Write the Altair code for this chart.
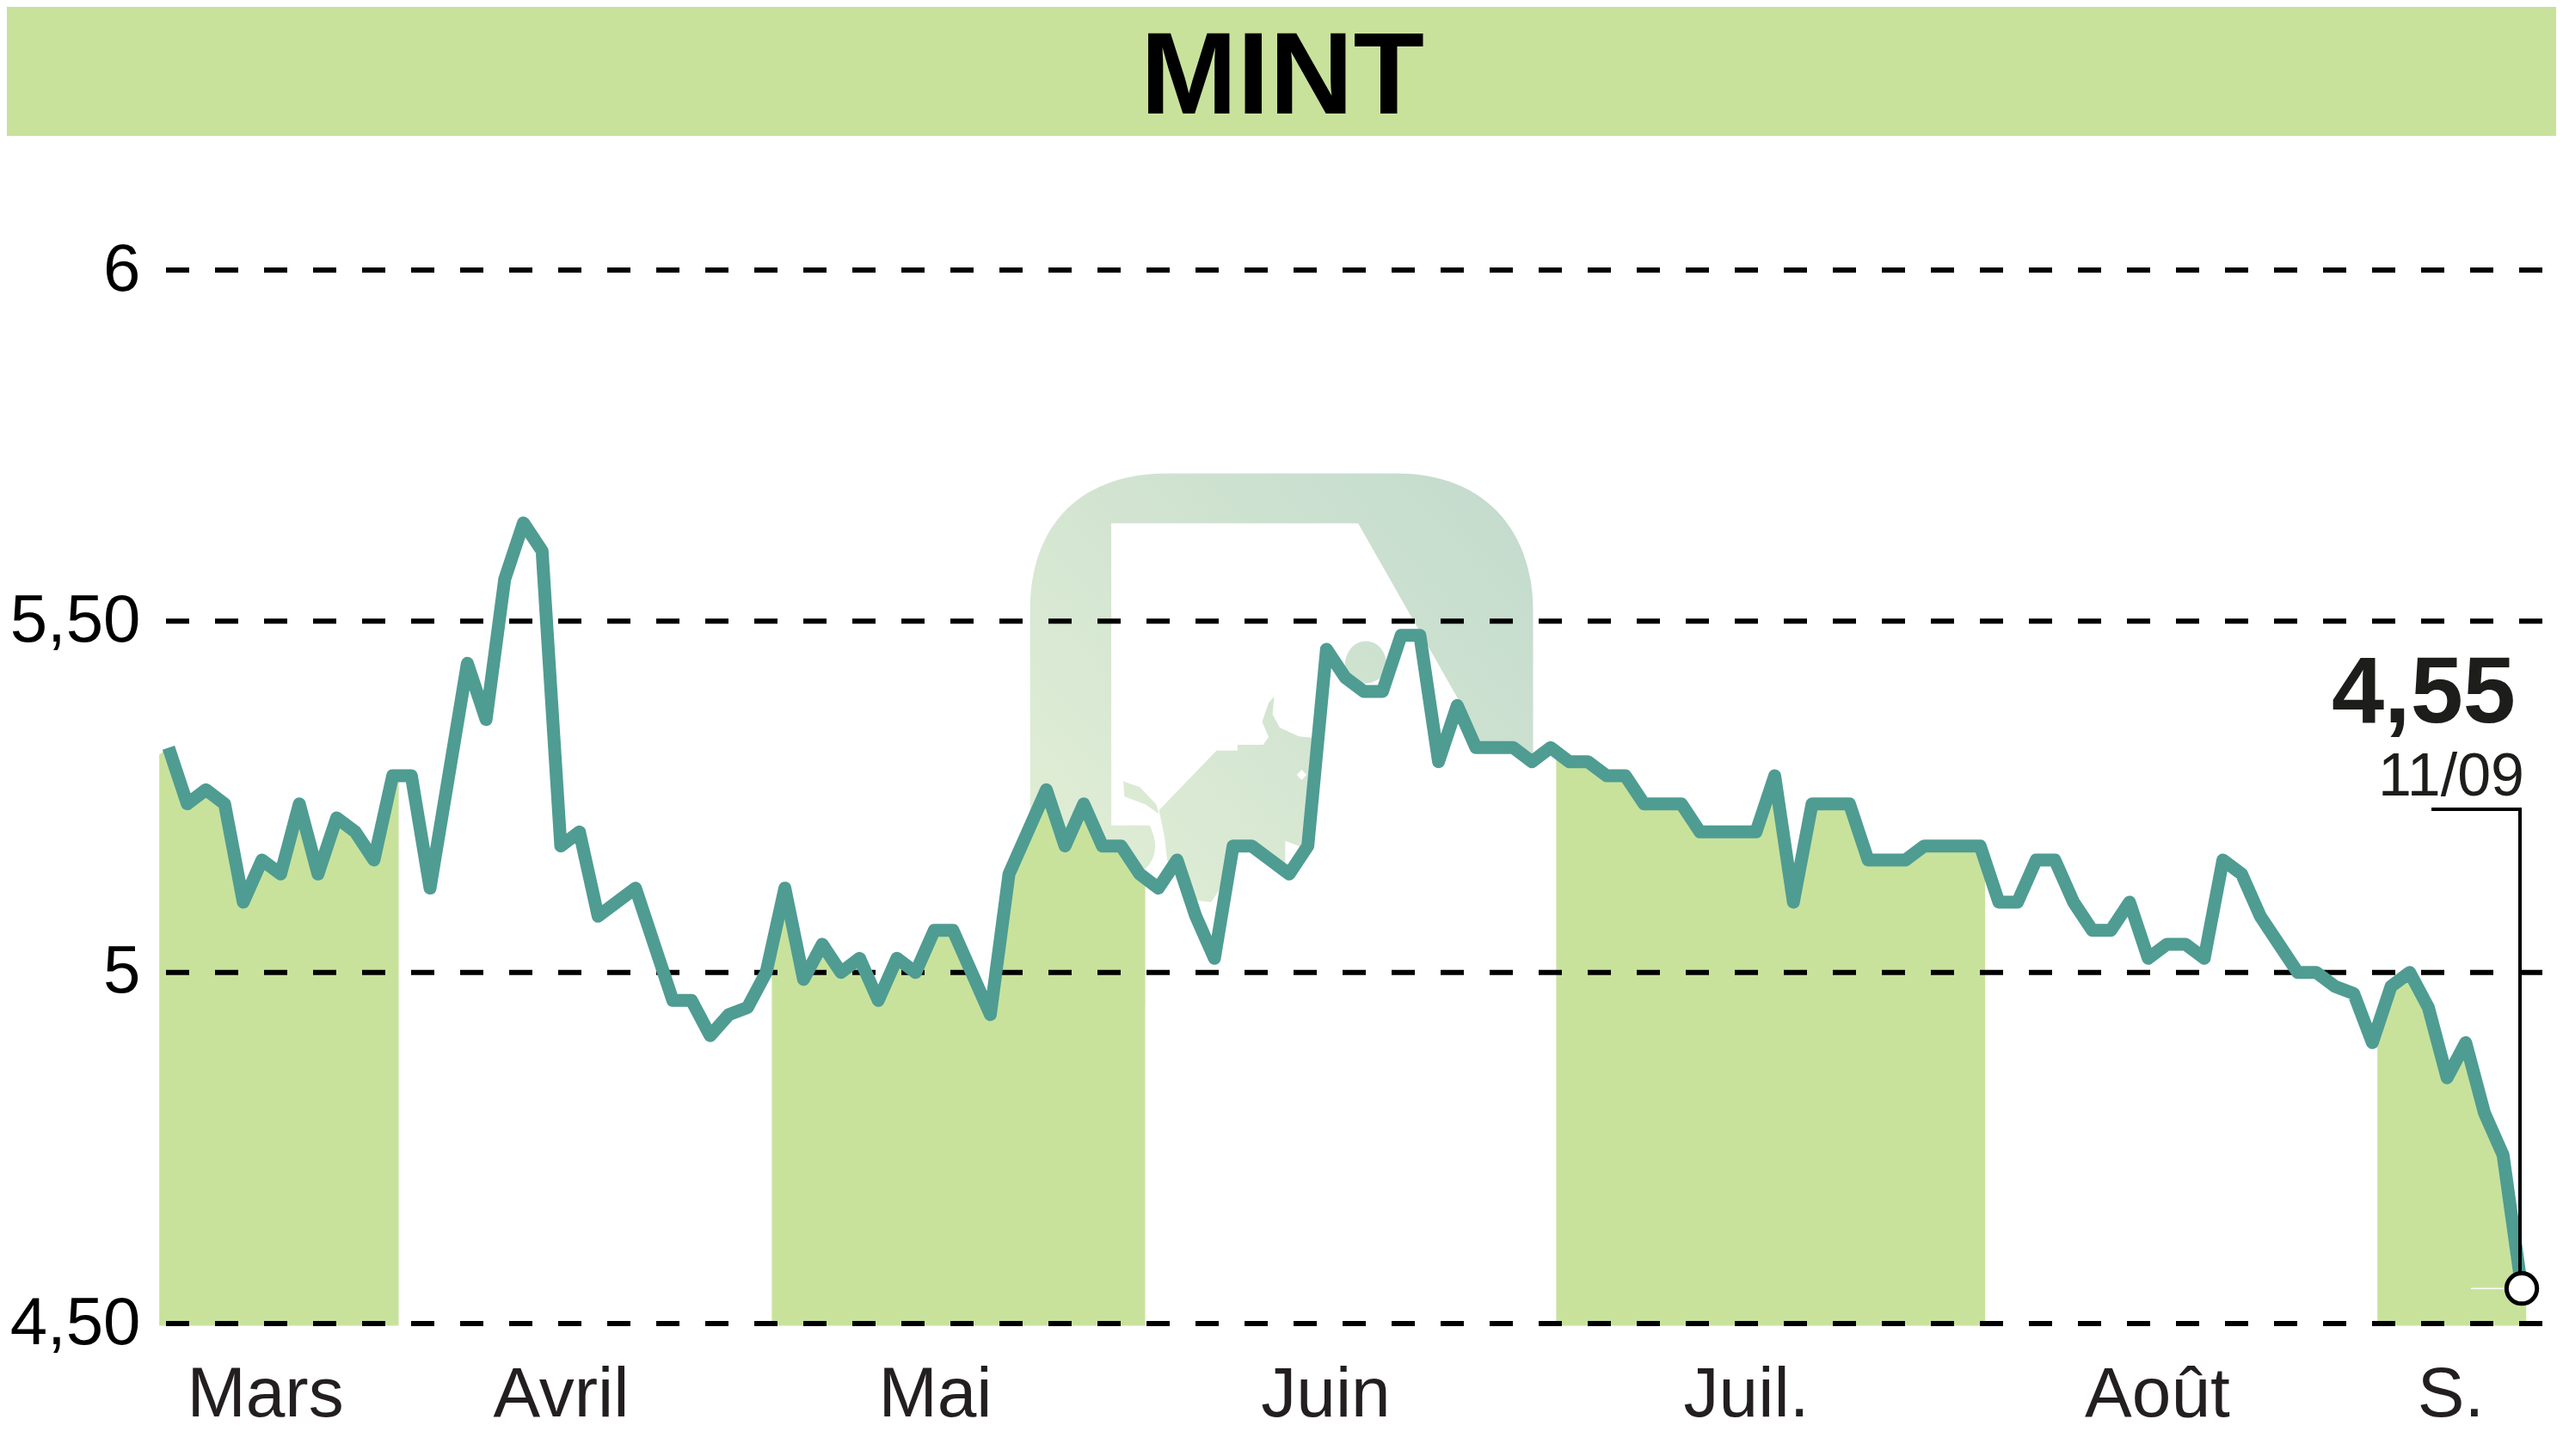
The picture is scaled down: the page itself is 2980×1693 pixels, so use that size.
import json
import altair as alt
import pandas as pd

values = [5.32,5.24,5.26,5.24,5.10,5.16,5.14,5.24,5.14,5.22,5.20,5.16,5.28,5.28,5.12,5.28,5.44,5.36,5.56,5.64,
          5.60,5.18,5.20,5.08,5.10,5.12,5.04,4.96,4.96,4.91,4.94,4.95,5.00,5.12,4.99,5.04,5.00,5.02,4.96,5.02,
          5.00,5.06,5.06,5.00,4.94,5.14,5.20,5.26,5.18,5.24,5.18,5.18,5.14,5.12,5.16,5.08,5.02,5.18,5.18,5.16,
          5.14,5.18,5.46,5.42,5.40,5.40,5.48,5.48,5.30,5.38,5.32,5.32,5.32,5.30,5.32,5.30,5.30,5.28,5.28,5.24,
          5.24,5.24,5.20,5.20,5.20,5.20,5.28,5.10,5.24,5.24,5.24,5.16,5.16,5.16,5.18,5.18,5.18,5.18,5.10,5.10,
          5.16,5.16,5.10,5.06,5.06,5.10,5.02,5.04,5.04,5.02,5.16,5.14,5.08,5.04,5.00,5.00,4.98,4.97,4.90,4.98,
          5.00,4.95,4.85,4.90,4.80,4.74,4.55]
month_labels = ["Mars", "Avril", "Mai", "Juin", "Juil.", "Août", "S."]
month_pos = [5.16, 21.0, 41.03, 61.94, 84.46, 106.47, 122.18]
band_edges = [-0.5, 12.33, 32.3, 52.3, 74.3, 97.27, 118.27, 126.24]
band_edge_values = [5.31, 5.28, 5.036, 5.134, 5.314, 5.158, 4.92, 4.55]
band_tones = ["#c8e29c", "#ffffff", "#c8e29c", "#ffffff", "#c8e29c", "#ffffff", "#c8e29c"]
y_ticks = [4.5, 5, 5.5, 6]
y_labels = ["4,50", "5", "5,50", "6"]

FONT = "Liberation Sans"
W, H = 2779, 1225
GREEN = "#c8e29c"
TEAL = "#4f9c92"

line_df = pd.DataFrame({"i": range(len(values)), "v": values})
last_df = line_df.tail(1)
tick_df = pd.DataFrame({"t": y_ticks})

x_scale = alt.Scale(domain=[-0.138, 127.84], nice=False, zero=False)
y_scale = alt.Scale(domain=[4.5, 6], nice=False, zero=False)
x_axis = alt.Axis(values=month_pos, title=None, grid=False, domain=False, ticks=False,
                  labelExpr=f"{json.dumps(month_labels)}[indexof({json.dumps(month_pos)},datum.value)]",
                  labelFont=FONT, labelFontSize=82, labelColor="#231f20", labelPadding=107, labelLimit=500,
                  labelBaseline="alphabetic", labelOverlap=False, labelBound=False, labelFlush=False)
y_axis = alt.Axis(values=y_ticks, title=None, grid=False, domain=False, ticks=False,
                  labelExpr=f"{json.dumps(y_labels)}[indexof({json.dumps(y_ticks)},datum.value)]",
                  labelFont=FONT, labelFontSize=78, labelColor="#000000", labelPadding=30, labelLimit=500,
                  labelBaseline="middle", labelOverlap=False, labelBound=False, labelFlush=False)


def zp(zx, zy):
    return f"{1000 + zx / 1.568 - 193:.1f} {500 + zy / 2.24 - 314:.1f}"


def poly(points):
    return "M" + " L".join(zp(*p) for p in points) + " Z"


outer = ("M" + zp(310, 1500) + " L" + zp(310, 470) + " C" + zp(310, 250) + " " + zp(400, 113) + " " + zp(560, 113)
         + " L" + zp(980, 113) + " C" + zp(1130, 113) + " " + zp(1227, 250) + " " + zp(1227, 470)
         + " L" + zp(1227, 1500) + " Z")
hole = ("M" + zp(458, 243) + " L" + zp(458, 1030) + " L" + zp(528, 1030) + " C" + zp(545, 1080) + " " + zp(540, 1120)
        + " " + zp(515, 1150) + " L" + zp(560, 1400) + " L" + zp(1090, 1400) + " L" + zp(1090, 700) + " L"
        + zp(908, 243) + " Z")
bull = poly([(545, 990), (650, 835), (688, 835), (688, 820), (735, 820), (745, 800), (733, 760), (745, 710),
             (755, 695), (752, 740), (765, 775), (800, 798), (830, 802), (830, 1100), (775, 1070), (775, 1140),
             (700, 1100), (640, 1230), (615, 1225), (560, 1120), (555, 1060)])
crescent = poly([(480, 915), (510, 930), (540, 975), (545, 1000), (520, 975), (482, 955)])
blob = ("M" + zp(922, 550) + " C" + zp(950, 550) + " " + zp(960, 590) + " " + zp(960, 610) + " C" + zp(960, 640)
        + " " + zp(940, 660) + " " + zp(922, 660) + " C" + zp(900, 660) + " " + zp(884, 640) + " " + zp(884, 610)
        + " C" + zp(884, 590) + " " + zp(895, 550) + " " + zp(922, 550) + " Z")
eye = poly([(805, 885), (796, 898), (805, 912), (814, 898)])
logo_path = " ".join([outer, hole, bull, crescent, blob, eye])

logo_fill = alt.Gradient(gradient="linear", x1=1, y1=0, x2=0, y2=1,
                         stops=[alt.GradientStop(color="#c2dacd", offset=0),
                                alt.GradientStop(color="#e6f1d6", offset=1)])

band_layers = []
for b, tone in enumerate(band_tones):
    lo, hi = band_edges[b], band_edges[b + 1]
    rows = [{"i": lo, "v": band_edge_values[b]}]
    rows += [{"i": k, "v": v} for k, v in enumerate(values) if lo < k < hi]
    rows += [{"i": hi, "v": band_edge_values[b + 1]}]
    df = pd.DataFrame(rows)
    df["base"] = 4.497
    band_layers.append(alt.Chart(df).mark_area(color=tone, opacity=1, line=False).encode(
        x=alt.X("i:Q", scale=x_scale, axis=x_axis),
        y=alt.Y("v:Q", scale=y_scale, axis=y_axis, stack=None),
        y2=alt.Y2("base:Q"),
    ))

header = alt.Chart().mark_rect(color=GREEN).encode(
    x=alt.value(-185), x2=alt.value(W), y=alt.value(-306), y2=alt.value(-156))
logo = alt.Chart().mark_point(shape=logo_path, size=4, filled=True, fill=logo_fill, opacity=1).encode(
    x=alt.value(0), y=alt.value(0))
grid = alt.Chart(tick_df).mark_rule(color="#000000", strokeWidth=6, strokeDash=[27, 30]).encode(
    x=alt.value(0), x2=alt.value(W), y=alt.Y("t:Q", scale=y_scale))
line = alt.Chart(line_df).mark_line(color=TEAL, strokeWidth=15, strokeJoin="round").encode(
    x=alt.X("i:Q", scale=x_scale), y=alt.Y("v:Q", scale=y_scale))
tiny = alt.Chart(last_df).mark_rule(color="#ffffff", strokeWidth=1.5).encode(
    x=alt.value(2680), x2=alt.value(2722), y=alt.Y("v:Q", scale=y_scale))
conn_h = alt.Chart().mark_rule(color="#000000", strokeWidth=4).encode(
    x=alt.value(2634), x2=alt.value(2739), y=alt.value(627))
conn_v = alt.Chart(last_df).mark_rule(color="#000000", strokeWidth=4).encode(
    x=alt.value(2737), y=alt.Y("v:Q", scale=y_scale), y2=alt.value(627))
marker = alt.Chart(last_df).mark_point(filled=False, fill="#ffffff", stroke="#000000", strokeWidth=5, size=1250,
                                       opacity=1).encode(
    x=alt.X("i:Q", scale=x_scale), y=alt.Y("v:Q", scale=y_scale))
title = alt.Chart().mark_text(text="MINT", font=FONT, fontWeight="bold", fontSize=135, color="#000000",
                              align="center", baseline="alphabetic").encode(x=alt.value(1298), y=alt.value(-182))
value_label = alt.Chart().mark_text(text="4,55", font=FONT, fontWeight="bold", fontSize=110, color="#1d1d1b",
                                    align="right", baseline="alphabetic").encode(x=alt.value(2732), y=alt.value(526))
date_label = alt.Chart().mark_text(text="11/09", font=FONT, fontSize=70, color="#1d1d1b",
                                   align="right", baseline="alphabetic").encode(x=alt.value(2742), y=alt.value(611))

chart = alt.layer(header, logo, *band_layers, grid, line, tiny, conn_h, conn_v, marker, title, value_label, date_label).properties(
    width=W, height=H,
    autosize=alt.AutoSizeParams(type="none"),
    padding={"left": 185, "top": 306, "right": 0, "bottom": 146},
    background="#ffffff",
).configure_view(strokeWidth=0)

chart.save("out.html", embed_options={"renderer": "svg", "actions": False})
